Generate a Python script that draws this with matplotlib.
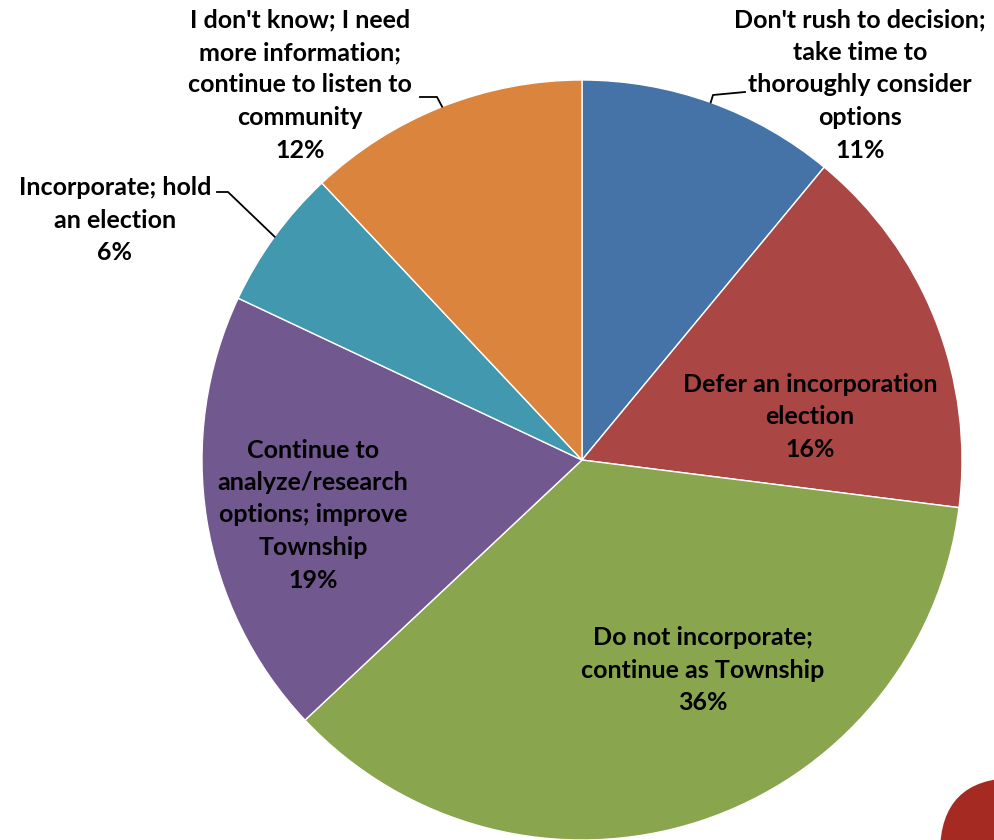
import matplotlib
matplotlib.use("Agg")
import matplotlib.pyplot as plt
from matplotlib.patches import FancyBboxPatch
import numpy as np

# data
labels = ["Don't rush to decision;\ntake time to\nthoroughly consider\noptions",
          "Defer an incorporation\nelection",
          "Do not incorporate;\ncontinue as Township",
          "Continue to\nanalyze/research\noptions; improve\nTownship",
          "Incorporate; hold\nan election",
          "I don't know; I need\nmore information;\ncontinue to listen to\ncommunity"]
shares = [11, 16, 36, 19, 6, 12]
colors = ["#4572A7", "#AA4643", "#89A54E", "#71588F", "#4198AF", "#DB843D"]

# layout (pixel coords, y from top)
W, H = 994, 840
cx, cy, R = 582, 460, 380
label_pos = [(860, 85), (810, 417), (703, 670), (313, 515), (115, 220), (300, 85)]
# leader line elbows for outside labels: (index, elbow, end)
leaders = [(0, (713, 95), (745, 92)),
           (5, (437, 97), (420, 97)),
           (4, (228, 192), (217, 192))]

plt.rcParams['font.family'] = ['Lato', 'DejaVu Sans']

fig = plt.figure(figsize=(W / 100, H / 100), dpi=100)
ax = fig.add_axes([0, 0, 1, 1])
ax.set_xlim(0, W)
ax.set_ylim(0, H)
ax.set_aspect('equal')
ax.axis('off')

ax.pie(shares, colors=colors, startangle=90, counterclock=False,
       center=(cx, H - cy), radius=R,
       wedgeprops=dict(edgecolor='white', linewidth=1))
ax.set_xlim(0, W)
ax.set_ylim(0, H)

for i, (lab, val) in enumerate(zip(labels, shares)):
    x, y = label_pos[i]
    ax.text(x, H - y, lab + "\n" + str(val) + "%", ha='center', va='center',
            fontsize=18, fontweight='bold', color='black', linespacing=1.5)

# leader lines from wedge middle on the rim
cum = np.cumsum([0] + shares)
for i, elbow, end in leaders:
    mid = (cum[i] + shares[i] / 2) / 100 * 2 * np.pi
    px = cx + R * np.sin(mid)
    py = cy - R * np.cos(mid)
    ax.plot([px, elbow[0], end[0]], [H - py, H - elbow[1], H - end[1]],
            color='black', lw=1.3)

# decorative red shape in the corner
blob = FancyBboxPatch((940, -120), 200, 182, boxstyle="round,pad=0,rounding_size=75",
                      facecolor='#A52A22', edgecolor='none')
ax.add_patch(blob)

fig.savefig("out.png", dpi=100)
